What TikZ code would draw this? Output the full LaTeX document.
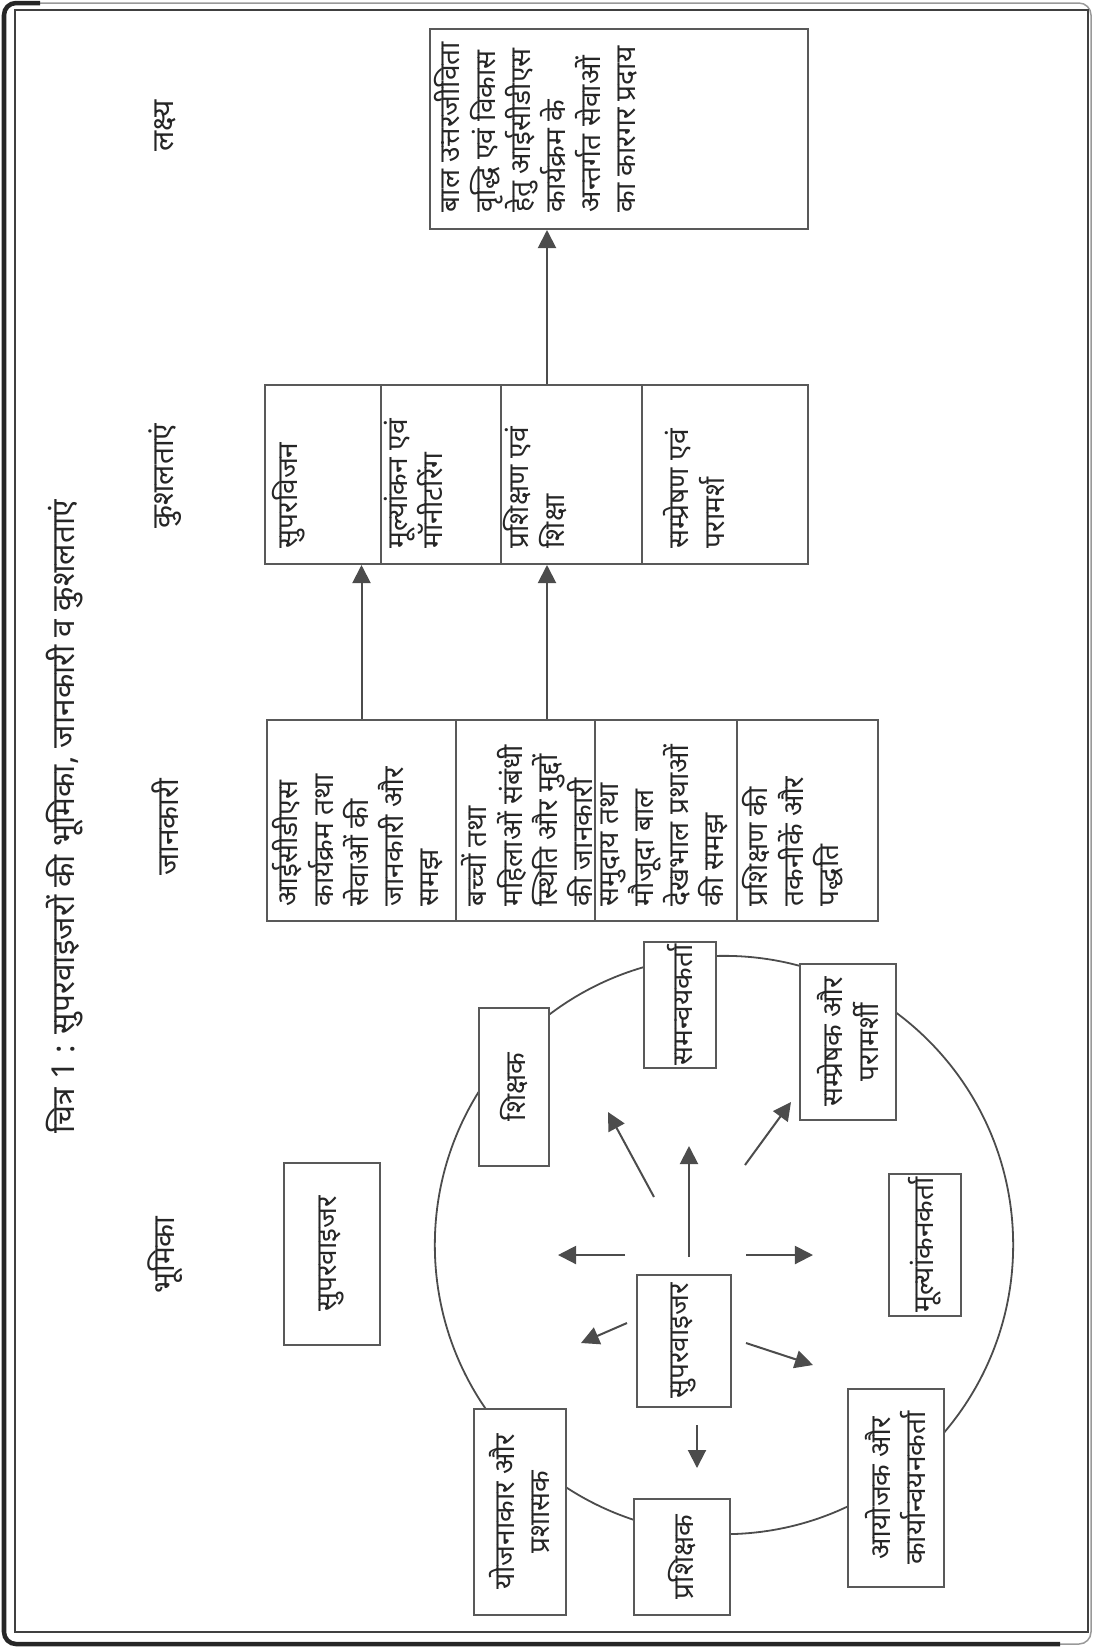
\documentclass[tikz,border=0pt]{standalone}
\usepackage{fontspec}
\newfontfamily\hindi[Script=Devanagari]{Noto Sans}
\usetikzlibrary{arrows.meta, fit}

\tikzset{
    box/.style={draw=black!65, line width=0.02cm, fill=white, inner sep=0pt},
    role/.style={box, rotate=90, align=center, text=black!85, font=\hindi\fontsize{8}{10}\selectfont},
    txt/.style={rotate=90, anchor=north west, align=left, inner sep=0pt, text=black!85, font=\hindi\fontsize{8}{10}\selectfont},
    head/.style={rotate=90, inner sep=0pt, text=black!85, font=\hindi\fontsize{8.5}{10}\selectfont},
    arr/.style={draw=black!70, line width=0.02cm, -{Triangle[length=0.18cm, width=0.18cm]}},
}

\begin{document}
\begin{tikzpicture}[x=0.01cm, y=-0.01cm]
    \useasboundingbox (0,0) rectangle (1093,1647);

    % Frame
    \draw[black!40, line width=0.015cm, rounded corners=0.12cm] (4,3) rectangle (1091,1644);
    \draw[black!85, line width=0.045cm, rounded corners=0.12cm] (40,3) -- (4,3) -- (4,1644) -- (1060,1644);
    \draw[black!75, line width=0.025cm] (15,10) rectangle (1088,1632);

    % Title
    \node[head, font=\hindi\fontsize{9}{10}\selectfont] (title) at (65,817)
        {चित्र 1 : सुपरवाइजरों की भूमिका, जानकारी व कुशलताएं};

    % Column headings
    \node[head] (hgoal)  at (165,126)  {लक्ष्य};
    \node[head] (hskill) at (165,476)  {कुशलताएं};
    \node[head] (hknow)  at (165,827)  {जानकारी};
    \node[head] (hrole)  at (165,1255) {भूमिका};

    % Goal
    \node[box, fit={(430,29) (808,229)}] (goal) {};
    \node[txt] (goal-t) at ([shift={(5,-17)}]goal.south west)
        {बाल उत्तरजीविता\\वृद्धि एवं विकास\\हेतु आईसीडीएस\\कार्यक्रम के\\अन्तर्गत सेवाओं\\का कारगर प्रदाय};

    % Skills
    \foreach \n/\xa/\xb/\px/\t in {
        s1/265/381/8/{सुपरविजन},
        s2/381/501/3/{मूल्यांकन एवं\\मॉनीटरिंग},
        s3/501/642/3/{प्रशिक्षण एवं\\शिक्षा},
        s4/642/808/22/{सम्प्रेषण एवं\\परामर्श}}{
        \node[box, fit={(\xa,385) (\xb,564)}] (\n) {};
        \node[txt] (\n-t) at ([shift={(\px,-16)}]\n.south west) {\t};
    }

    % Knowledge
    \foreach \n/\xa/\xb/\t in {
        k1/267/456/{आईसीडीएस\\कार्यक्रम तथा\\सेवाओं की\\जानकारी और\\समझ},
        k2/456/595/{बच्चों तथा\\महिलाओं संबंधी\\स्थिति और मुद्दों\\की जानकारी},
        k3/595/737/{समुदाय तथा\\मौजूदा बाल\\देखभाल प्रथाओं\\की समझ},
        k4/737/878/{प्रशिक्षण की\\तकनीकें और\\पद्धति}}{
        \node[box, fit={(\xa,720) (\xb,921)}] (\n) {};
        \node[txt] (\n-t) at ([shift={(6,-15)}]\n.south west) {\t};
    }

    % Arrows between columns
    \coordinate (ax) at (547,0);
    \draw[arr] (k1.north) -- (k1.north |- s1.south);
    \draw[arr] (k2.north -| ax) -- (s3.south -| ax);
    \draw[arr] (s3.north -| ax) -- (goal.south -| ax);

    % Roles
    \node[role, minimum width=1.81cm, minimum height=0.96cm] (sup0) at (332,1254) {सुपरवाइजर};

    \coordinate (cc) at (724,1245);
    \draw[black!70, line width=0.018cm] (cc) circle (2.89cm);

    \node[role, minimum width=1.58cm, minimum height=0.70cm] (shik)  at (514,1087) {शिक्षक};
    \node[role, minimum width=1.26cm, minimum height=0.71cm] (saman) at (680,1005) {समन्वयकर्ता};
    \node[role, minimum width=1.56cm, minimum height=0.95cm] (sampr) at (848,1042) {सम्प्रेषक और\\परामर्शी};
    \node[role, minimum width=1.42cm, minimum height=0.72cm] (mulya) at (925,1245) {मूल्यांकनकर्ता};
    \node[role, minimum width=1.97cm, minimum height=0.95cm] (ayoj)  at (896,1488) {आयोजक और\\कार्यान्वयनकर्ता};
    \node[role, minimum width=1.16cm, minimum height=0.95cm] (prash) at (682,1557) {प्रशिक्षक};
    \node[role, minimum width=2.06cm, minimum height=0.92cm] (yojn)  at (520,1512) {योजनाकार और\\प्रशासक};
    \node[role, minimum width=1.31cm, minimum height=0.94cm] (sup)   at (684,1341) {सुपरवाइजर};

    % Arrows round the supervisor
    \coordinate (up-s) at (689,1257); \coordinate (up-e) at (689,1146);
    \coordinate (ul-s) at (654,1197); \coordinate (ul-e) at (608,1112);
    \coordinate (ur-s) at (745,1165); \coordinate (ur-e) at (791,1102);
    \coordinate (lf-s) at (625,1255); \coordinate (lf-e) at (558,1255);
    \coordinate (rt-s) at (746,1255); \coordinate (rt-e) at (813,1255);
    \coordinate (dl-s) at (627,1323); \coordinate (dl-e) at (581,1343);
    \coordinate (dr-s) at (746,1343); \coordinate (dr-e) at (813,1365);
    \coordinate (dn-s) at (697,1425); \coordinate (dn-e) at (697,1468);
    \foreach \a in {up, ul, ur, lf, rt, dl, dr, dn}
        \draw[arr] (\a-s) -- (\a-e);

\end{tikzpicture}
\end{document}
